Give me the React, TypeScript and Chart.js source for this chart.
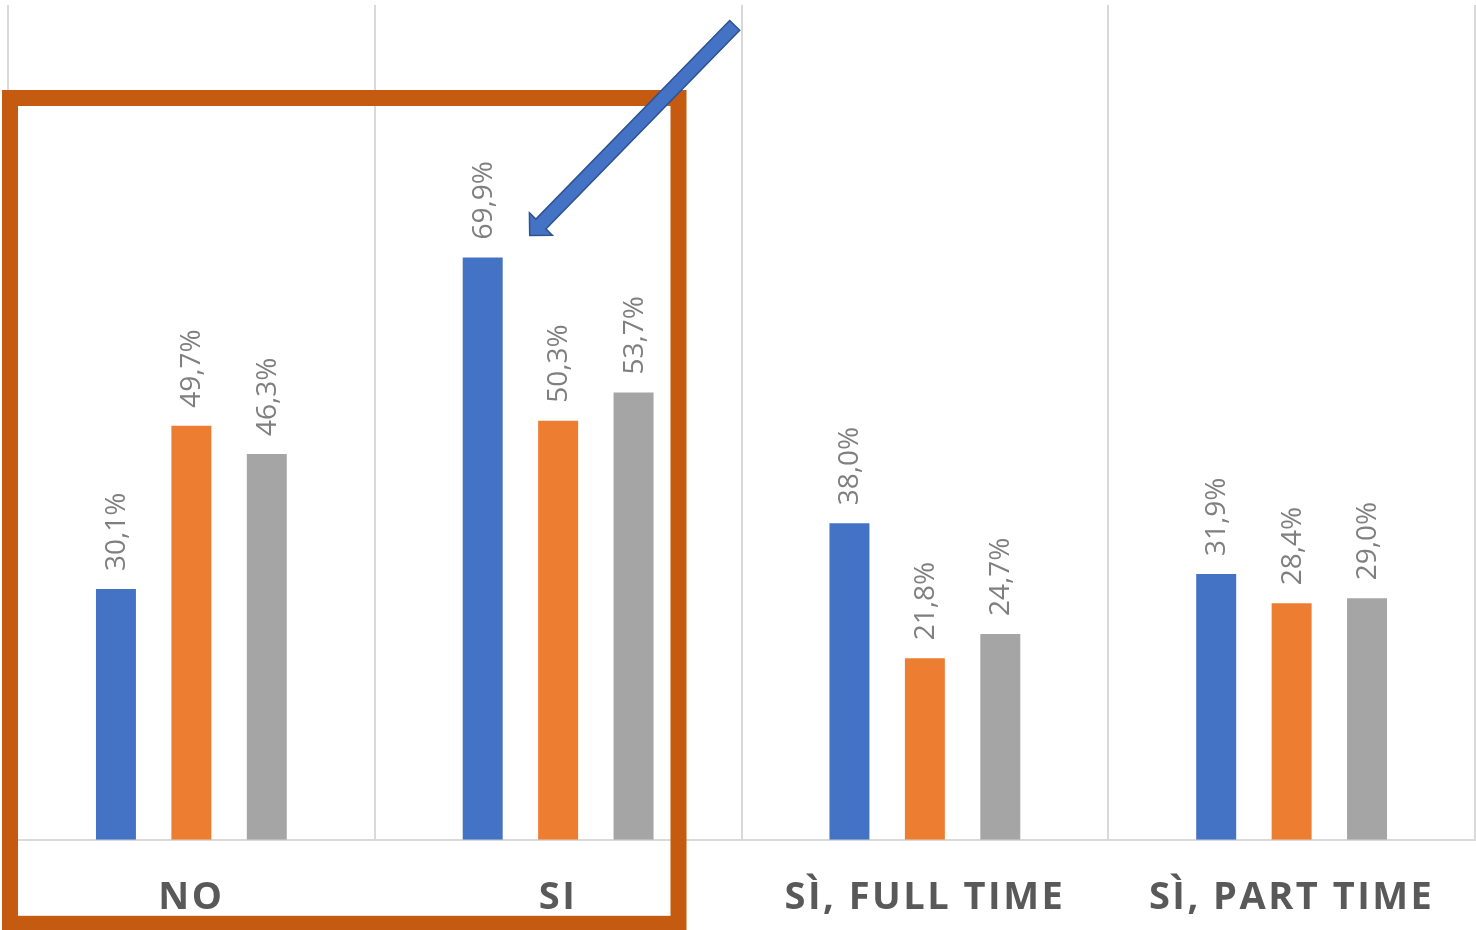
import React, { useEffect, useRef } from "react";
import { Chart, registerables } from "chart.js";

Chart.register(...registerables);

const categories = ["NO", "SI", "SÌ, FULL TIME", "SÌ, PART TIME"];
const seriesBlue = [30.1, 69.9, 38.0, 31.9];
const seriesOrange = [49.7, 50.3, 21.8, 28.4];
const seriesGray = [46.3, 53.7, 24.7, 29.0];
const seriesNames = ["Serie 1", "Serie 2", "Serie 3"];
const seriesColors = ["#4472C4", "#ED7D31", "#A5A5A5"];

const fmt = (v: number) => v.toFixed(1).replace(".", ",") + "%";

const spacingPlugin = {
  id: "tickSpacing",
  beforeDraw(chart: any) {
    chart.ctx.letterSpacing = "2.5px";
  },
  beforeDatasetsDraw(chart: any) {
    chart.ctx.letterSpacing = "0px";
  },
};

const labelPlugin = {
  id: "rotatedLabels",
  afterDatasetsDraw(chart: any) {
    const ctx = chart.ctx;
    ctx.save();
    ctx.letterSpacing = "0px";
    ctx.font = "28px 'Open Sans'";
    ctx.fillStyle = "#7F7F7F";
    ctx.textAlign = "left";
    ctx.textBaseline = "middle";
    chart.data.datasets.forEach((ds: any, di: number) => {
      const meta = chart.getDatasetMeta(di);
      meta.data.forEach((bar: any, i: number) => {
        ctx.save();
        ctx.translate(bar.x, bar.y - 18);
        ctx.rotate(-Math.PI / 2);
        ctx.fillText(fmt(ds.data[i]), 0, 1);
        ctx.restore();
      });
    });
    ctx.restore();
  },
};

const annotationPlugin = {
  id: "annotations",
  afterDraw(chart: any) {
    const ctx = chart.ctx;
    const area = chart.chartArea;
    const xs = chart.scales.x;
    const boundary = (xs.getPixelForValue(1) + xs.getPixelForValue(2)) / 2;
    ctx.save();
    ctx.letterSpacing = "0px";
    ctx.strokeStyle = "#C55A11";
    ctx.lineWidth = 16;
    const left = area.left + 2;
    const right = boundary - 63;
    const top = area.top + 93;
    const bottom = area.bottom + 84;
    ctx.strokeRect(left, top, right - left, bottom - top);

    const bar = chart.getDatasetMeta(0).data[1];
    const tip = { x: bar.x + 47, y: bar.y - 22 };
    const tail = { x: tip.x + 205, y: tip.y - 210 };
    const dx = tip.x - tail.x;
    const dy = tip.y - tail.y;
    const len = Math.hypot(dx, dy);
    const ux = dx / len, uy = dy / len;
    const nx = -uy, ny = ux;
    const sw = 7, hw = 16, hl = 16;
    const bx = tip.x - ux * hl, by = tip.y - uy * hl;
    ctx.beginPath();
    ctx.moveTo(tail.x + nx * sw, tail.y + ny * sw);
    ctx.lineTo(bx + nx * sw, by + ny * sw);
    ctx.lineTo(bx + nx * hw, by + ny * hw);
    ctx.lineTo(tip.x, tip.y);
    ctx.lineTo(bx - nx * hw, by - ny * hw);
    ctx.lineTo(bx - nx * sw, by - ny * sw);
    ctx.lineTo(tail.x - nx * sw, tail.y - ny * sw);
    ctx.closePath();
    ctx.fillStyle = "#4472C4";
    ctx.fill();
    ctx.strokeStyle = "#2F528F";
    ctx.lineWidth = 1.5;
    ctx.lineJoin = "miter";
    ctx.stroke();
    ctx.restore();
  },
};

export default function App() {
  const ref = useRef<HTMLCanvasElement | null>(null);
  useEffect(() => {
    if (!ref.current) return;
    const chart = new Chart(ref.current, {
      type: "bar",
      data: {
        labels: categories,
        datasets: [seriesBlue, seriesOrange, seriesGray].map((d, i) => ({
          label: seriesNames[i],
          data: d,
          backgroundColor: seriesColors[i],
          borderWidth: 0,
          categoryPercentage: 0.617,
          barPercentage: 0.53,
        })),
      },
      options: {
        animation: false,
        responsive: false,
        devicePixelRatio: 1,
        layout: { padding: { left: 8, right: 1, top: 5, bottom: -27.4 } },
        plugins: {
          legend: { display: false },
          tooltip: { enabled: false },
        },
        scales: {
          x: {
            grid: {
              color: "#D9D9D9",
              lineWidth: 2,
              drawTicks: false,
              offset: true,
            },
            border: { display: true, color: "#D9D9D9", width: 2 },
            ticks: {
              color: "#595959",
              padding: 36,
              maxRotation: 0,
              autoSkip: false,
              font: { family: "'Open Sans'", size: 38, weight: "bold" },
            },
          },
          y: {
            display: false,
            min: 0,
            max: 100.2,
          },
        },
      },
      plugins: [spacingPlugin, labelPlugin, annotationPlugin],
    });
    return () => chart.destroy();
  }, []);
  return (
    <div style={{ position: "fixed", left: 0, top: 0, width: 1476, height: 930, background: "#fff" }}>
      <canvas ref={ref} width={1476} height={930} />
    </div>
  );
}
